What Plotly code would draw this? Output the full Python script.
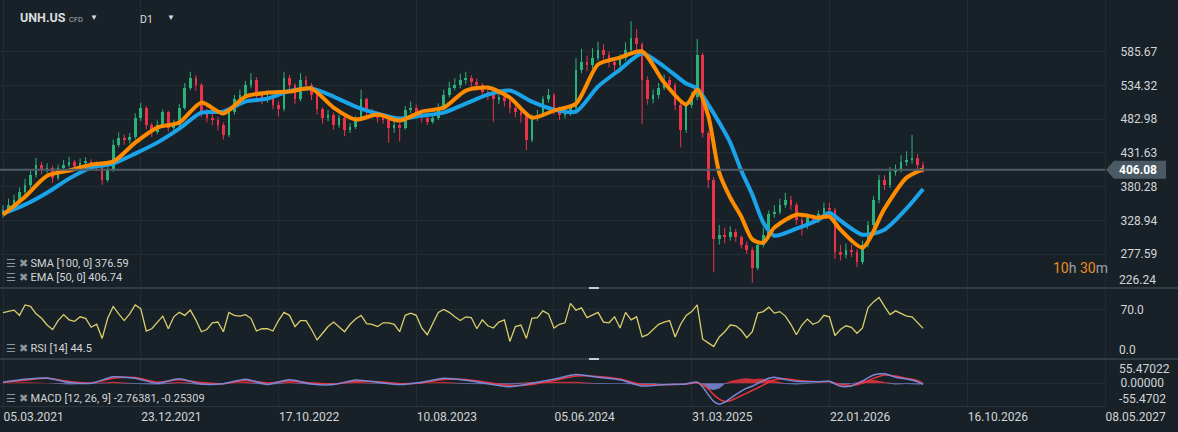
import plotly.graph_objects as go
from plotly.subplots import make_subplots

# UNH.US daily chart, squeezed into ~8-session candles
bars = list(range(168))

opens = [
    338, 345, 353, 360, 372, 383, 398, 414, 406, 409,
    394, 409, 414, 418, 412, 417, 418, 414, 412, 391,
    406, 444, 455, 452, 456, 485, 500, 474, 464, 474,
    494, 470, 474, 500, 531, 546, 535, 494, 485, 482,
    474, 459, 494, 513, 520, 535, 543, 520, 513, 516,
    505, 498, 546, 535, 513, 543, 535, 520, 498, 485,
    490, 474, 485, 467, 471, 482, 513, 494, 490, 485,
    482, 470, 474, 470, 497, 500, 490, 485, 479, 485,
    500, 520, 531, 535, 543, 546, 540, 535, 525, 520,
    513, 516, 510, 500, 494, 490, 452, 485, 490, 513,
    520, 497, 490, 494, 500, 558, 570, 566, 576, 589,
    581, 570, 566, 576, 589, 607, 597, 543, 513, 520,
    531, 543, 535, 505, 467, 505, 516, 581, 462, 391,
    300, 307, 303, 312, 303, 292, 284, 257, 292, 307,
    338, 342, 353, 360, 353, 330, 322, 333, 330, 338,
    348, 345, 281, 276, 284, 281, 266, 292, 322, 360,
    391, 383, 403, 406, 418, 421, 424, 414,
]
highs = [
    352, 362, 368, 379, 392, 405, 424, 418, 416, 412,
    414, 421, 426, 421, 423, 425, 422, 419, 414, 410,
    452, 463, 460, 462, 492, 508, 503, 478, 481, 498,
    496, 482, 506, 538, 555, 550, 538, 499, 492, 486,
    478, 498, 520, 528, 541, 553, 547, 524, 523, 519,
    510, 555, 550, 538, 553, 549, 538, 522, 501, 497,
    493, 490, 488, 477, 488, 528, 516, 499, 494, 489,
    485, 480, 478, 503, 510, 505, 494, 489, 491, 507,
    528, 540, 545, 552, 555, 550, 545, 538, 530, 524,
    522, 520, 513, 504, 498, 492, 490, 497, 518, 529,
    523, 502, 500, 506, 576, 590, 580, 591, 601, 597,
    586, 574, 582, 600, 632, 620, 600, 548, 528, 538,
    551, 548, 538, 508, 510, 524, 605, 584, 465, 395,
    322, 318, 320, 316, 306, 297, 288, 296, 318, 344,
    352, 362, 371, 366, 356, 334, 339, 338, 344, 356,
    356, 348, 292, 294, 292, 285, 298, 328, 366, 398,
    398, 410, 414, 428, 434, 459, 430, 418,
]
lows = [
    333, 340, 348, 355, 366, 378, 394, 399, 401, 386,
    390, 404, 410, 406, 408, 410, 408, 404, 383, 387,
    403, 440, 444, 446, 452, 480, 468, 456, 460, 470,
    464, 466, 471, 497, 527, 526, 486, 478, 474, 466,
    452, 456, 490, 508, 515, 530, 514, 506, 508, 498,
    487, 495, 528, 506, 510, 528, 512, 490, 476, 480,
    467, 470, 457, 462, 468, 480, 488, 484, 478, 476,
    447, 462, 449, 467, 492, 484, 478, 474, 476, 482,
    497, 516, 527, 530, 536, 532, 526, 518, 512, 479,
    506, 502, 492, 486, 478, 436, 448, 480, 486, 508,
    490, 482, 484, 488, 497, 553, 556, 560, 572, 574,
    562, 556, 560, 572, 584, 585, 475, 505, 507, 514,
    527, 525, 497, 440, 462, 500, 512, 455, 378, 250,
    292, 294, 298, 296, 286, 278, 234, 253, 288, 303,
    333, 338, 348, 345, 322, 306, 316, 323, 325, 333,
    338, 270, 268, 271, 273, 258, 262, 288, 318, 355,
    375, 378, 397, 402, 412, 415, 406, 401,
]
closes = [
    345, 353, 360, 372, 383, 398, 414, 406, 409, 394,
    409, 414, 418, 412, 417, 418, 414, 412, 391, 406,
    444, 455, 452, 456, 485, 500, 474, 464, 474, 494,
    470, 474, 500, 531, 546, 535, 494, 485, 482, 474,
    459, 494, 513, 520, 535, 543, 520, 513, 516, 505,
    498, 546, 535, 513, 543, 535, 520, 498, 485, 490,
    474, 485, 467, 471, 482, 513, 494, 490, 485, 482,
    470, 474, 470, 497, 500, 490, 485, 479, 485, 500,
    520, 531, 535, 543, 546, 540, 535, 525, 520, 513,
    516, 510, 500, 494, 490, 452, 485, 490, 513, 520,
    497, 490, 494, 500, 558, 570, 566, 576, 589, 581,
    570, 566, 576, 589, 607, 597, 543, 513, 520, 531,
    543, 535, 505, 467, 505, 516, 581, 462, 391, 300,
    307, 303, 312, 303, 292, 284, 257, 292, 307, 338,
    342, 353, 360, 353, 330, 322, 333, 330, 338, 348,
    345, 281, 276, 284, 281, 266, 292, 322, 360, 391,
    383, 403, 406, 418, 421, 424, 414, 406.08,
]

# moving averages, read at every ~4th candle
ma_bars = [0, 4, 8, 12, 16, 20, 24, 28, 32, 36, 40, 44, 48, 52, 56, 60,
           64, 68, 72, 76, 80, 84, 88, 92, 96, 100, 104, 108, 112, 116, 120, 124,
           126, 128, 130, 132, 134, 136, 138, 140,
           144, 148, 150, 152, 156, 160, 164, 167]
sma_100 = [339.2, 352.9, 371.1, 392.5, 409.2, 415.3, 430.6, 447.3, 468.6, 493.0,
           494.5, 509.8, 514.3, 525.8, 529.6, 517.4, 502.1, 491.5, 483.9, 488.4,
           493.0, 506.7, 520.4, 526.5, 509.8, 497.6, 494.5, 532.6, 558.5, 582.9,
           563.1, 537.2,
           529.6, 505.2, 477.8, 447.3, 404.7, 368.1, 325.5, 305.6,
           316.3, 330.0, 340.7, 328.5, 307.2, 314.8, 346.8, 376.59]
ema_50 = [337.6, 365.0, 397.0, 404.7, 413.8, 418.4, 447.3, 470.2, 477.8, 508.2,
          491.5, 517.4, 523.5, 525.0, 529.6, 500.6, 482.4, 490.0, 480.8, 494.5,
          500.6, 526.5, 531.1, 515.9, 485.4, 496.1, 506.7, 566.2, 576.8, 586.0,
          538.7, 505.2,
          528.0, 488.4, 401.6, 363.6, 334.6, 300.0, 295.0, 317.9,
          337.6, 333.1, 334.6, 314.8, 287.4, 346.8, 394.0, 406.74]

rsi_14 = [
    65.5, 67, 69, 62, 76, 74, 64, 58, 49, 43,
    55, 63, 56, 54, 60, 58, 46, 50, 31, 58,
    74, 64, 55, 64, 76, 71, 41, 44, 53, 61,
    44, 60, 66, 62, 69, 56, 40, 43, 52, 53,
    40, 66, 62, 61, 63, 58, 41, 44, 44, 41,
    55, 66, 62, 47, 55, 55, 43, 29, 38, 47,
    53, 47, 40, 50, 57, 62, 51, 50, 47, 52,
    52, 50, 40, 62, 65, 62, 45, 36, 52, 66,
    70, 66, 60, 55, 60, 59, 44, 56, 48, 45,
    53, 56, 27, 47, 49, 31, 58, 59, 68, 64,
    45, 50, 52, 78, 69, 72, 59, 63, 66, 53,
    52, 60, 45, 66, 56, 60, 33, 36, 43, 50,
    53, 55, 33, 50, 62, 67, 76, 30, 25, 20,
    33, 40, 49, 48, 42, 32, 40, 65, 67, 73,
    65, 67, 61, 50, 36, 49, 57, 50, 53, 62,
    60, 35, 43, 48, 46, 38, 45, 72, 80, 86,
    74, 63, 68, 65, 61, 60, 52, 44.5,
]

macd_bars = [0, 4, 8, 12, 16, 20, 24, 28, 32, 36, 40, 44, 48, 52, 56, 60,
             64, 68, 72, 76, 80, 84, 88, 92, 96, 100, 104, 108, 112, 116, 120, 124,
             126, 127, 128, 129, 130, 131, 132, 133, 134, 135, 136, 137, 138, 139, 140,
             142, 144, 148, 150, 152, 154, 156, 158, 160, 162, 164, 166, 167]
macd_line = [3, 10.6, 14, 2, 0, 17, 13, 0, 12, -2, -1, 10.6, -3, 9, -2, -3.5,
             8.7, 2.6, -3.5, 2.6, 13.2, 7.8, -1, -9, 0, 10.6, 23, 15.8, 9.5, -7.2, -3.5, -1.8,
             3, -10, -30, -48, -55.47, -50, -40, -30, -21, -13, -8, 0, 7, 13, 16,
             10, 5, 4, 5, -8, -7, 6, 22, 25, 16, 11, 4, -2.76]
macd_signal = [2, 8, 13, 5, 1, 13, 15, 3, 9, 2, -1, 7, 1, 6, 1, -2,
               5, 4, -1, 1, 10, 10, 2, -6, -3, 7, 19, 18, 11, -3, -4, -2,
               1, -4, -15, -30, -42, -48, -46, -40, -33, -26, -19, -12, -5, 3, 9,
               12, 8, 4, 4, -3, -6, 0, 13, 22, 19, 13, 7, -0.25]
macd_hist = [1, 2.6, 1, -3, -1, 4, -2, -3, 3, -4, 0, 3.6, -4, 3, -3, -1.5,
             3.7, -1.4, -2.5, 1.6, 3.2, -2.2, -3, -3, 3, 3.6, 4, -2.2, -1.5, -4.2, 0.5, 0.2,
             2, -6, -15, -18, -13.5, -2, 6, 10, 12, 13, 11, 12, 12, 10, 7,
             -2, -3, 0, 1, -5, -1, 6, 9, 3, -3, -2, -3, -2.51]

tick_bars = [0, 25, 50, 75, 100, 125, 150, 175, 200]
tick_dates = ['05.03.2021', '23.12.2021', '17.10.2022', '10.08.2023', '05.06.2024',
              '31.03.2025', '22.01.2026', '16.10.2026', '08.05.2027']
price_ticks = [585.67, 534.32, 482.98, 431.63, 380.28, 328.94, 277.59]
last_price = 406.08

BG = '#182127'
GRID = '#222c33'
SEP = '#3a454e'
TEXT = '#d2d5d8'
ICON = '#8e979e'
GREEN = '#2bb27a'
RED = '#ea3349'
BLUE = '#1ba3ea'
ORANGE = '#ff8c00'
FONT = 'Roboto'

W, H = 1178, 432
PLOT_W = 1105          # plot area width in px (right margin holds the price scale)
PLOT_H = 406


def px_x(x):
    return x / PLOT_W


def px_y(y):
    return (PLOT_H - y) / PLOT_H


fig = make_subplots(rows=3, cols=1, shared_xaxes=True, vertical_spacing=0)

# candles drawn as thin bodies + wicks so they read like the dense daily bars
up = [c >= o for o, c in zip(opens, closes)]
body_base = [min(o, c) for o, c in zip(opens, closes)]
body_size = [max(abs(c - o), 1.2) for o, c in zip(opens, closes)]
for rising, color in ((True, GREEN), (False, RED)):
    wx, wy = [], []
    for b, h, l, u in zip(bars, highs, lows, up):
        if u == rising:
            wx += [b, b, None]
            wy += [l, h, None]
    fig.add_trace(go.Scatter(x=wx, y=wy, mode='lines', line=dict(color=color, width=1),
                             hoverinfo='skip'), row=1, col=1)
fig.add_trace(go.Bar(x=bars, y=body_size, base=body_base, width=0.48,
                     marker=dict(color=[GREEN if u else RED for u in up], line=dict(width=0)),
                     hoverinfo='skip'), row=1, col=1)

fig.add_trace(go.Scatter(x=ma_bars, y=sma_100, mode='lines',
                         line=dict(color=BLUE, width=4, shape='spline', smoothing=0.7),
                         hoverinfo='skip'), row=1, col=1)
fig.add_trace(go.Scatter(x=ma_bars, y=ema_50, mode='lines',
                         line=dict(color=ORANGE, width=4, shape='spline', smoothing=0.7),
                         hoverinfo='skip'), row=1, col=1)

fig.add_trace(go.Scatter(x=bars, y=rsi_14, mode='lines',
                         line=dict(color='#d9cf6c', width=1.3), hoverinfo='skip'),
              row=2, col=1)

hist_pos = [h if h > 0 else 0 for h in macd_hist]
hist_neg = [h if h < 0 else 0 for h in macd_hist]
fig.add_trace(go.Scatter(x=macd_bars, y=hist_pos, mode='lines', fill='tozeroy',
                         line=dict(width=0, color=RED), fillcolor='rgba(234,51,59,0.85)',
                         hoverinfo='skip'), row=3, col=1)
fig.add_trace(go.Scatter(x=macd_bars, y=hist_neg, mode='lines', fill='tozeroy',
                         line=dict(width=0, color='#7c89d8'), fillcolor='rgba(124,137,216,0.85)',
                         hoverinfo='skip'), row=3, col=1)
fig.add_trace(go.Scatter(x=macd_bars, y=macd_signal, mode='lines',
                         line=dict(color='#e8333c', width=1.5, shape='spline', smoothing=0.6),
                         hoverinfo='skip'), row=3, col=1)
fig.add_trace(go.Scatter(x=macd_bars, y=macd_line, mode='lines',
                         line=dict(color='#7c89d8', width=1.5, shape='spline', smoothing=0.6),
                         hoverinfo='skip'), row=3, col=1)

# x axes: shared bar index, date labels left-aligned at each gridline
x_range = [-0.545, 200.02]
for r in (1, 2, 3):
    fig.update_xaxes(range=x_range, tickvals=tick_bars, ticktext=tick_dates,
                     showgrid=True, gridcolor=GRID, gridwidth=1, zeroline=False,
                     showticklabels=(r == 3), ticks='', rangeslider_visible=False,
                     row=r, col=1)
fig.update_xaxes(ticklabelposition='outside right', tickfont=dict(size=12, color=TEXT),
                 showline=True, linecolor='#2a353d', row=3, col=1)

axis_common = dict(side='right', showgrid=True, gridcolor=GRID, zeroline=False, ticks='',
                   showline=True, linecolor=GRID, ticklabelstandoff=12,
                   tickfont=dict(size=12, color=TEXT))
fig.update_yaxes(range=[226.0, 664.4], tickvals=price_ticks,
                 ticktext=[f'{v:.2f}' for v in price_ticks],
                 domain=[px_y(288), 1.0], **axis_common, row=1, col=1)
fig.update_yaxes(range=[3.4, 98.7], tickvals=[70], ticktext=['70.0'],
                 domain=[px_y(359), px_y(288)], **axis_common, row=2, col=1)
fig.update_yaxes(range=[-60, 64], tickvals=[0], ticktext=['0.00000'],
                 domain=[0, px_y(359)], **axis_common, row=3, col=1)

shapes = [
    # last price line
    dict(type='line', xref='x domain', yref='y', x0=0, x1=1, y0=last_price, y1=last_price,
         line=dict(color='#4f5d67', width=2)),
    # price tag behind the last price label
    dict(type='path', xref='paper', yref='y', fillcolor='#4a5963', line=dict(width=0),
         path=(f'M {px_x(1106)},{last_price} L {px_x(1114)},{last_price + 13.7} '
               f'L {px_x(1166)},{last_price + 13.7} L {px_x(1166)},{last_price - 13.7} '
               f'L {px_x(1114)},{last_price - 13.7} Z')),
]
for sep_y in (288, 359):
    shapes.append(dict(type='line', xref='paper', yref='paper', x0=0, x1=px_x(W),
                       y0=px_y(sep_y), y1=px_y(sep_y), line=dict(color=SEP, width=1.5)))
    shapes.append(dict(type='rect', xref='paper', yref='paper', x0=px_x(589), x1=px_x(599),
                       y0=px_y(sep_y + 1), y1=px_y(sep_y - 1),
                       fillcolor='#c9cdd0', line=dict(width=0)))


def note(text, x, y, size=11, color=TEXT, xanchor='left', yanchor='middle'):
    return dict(text=text, xref='paper', yref='paper', x=px_x(x), y=px_y(y),
                xanchor=xanchor, yanchor=yanchor, showarrow=False,
                font=dict(family=FONT, size=size, color=color))


icons = f'<span style="color:{ICON}">☰ ✖</span> '
annotations = [
    note('<b>UNH.US</b>', 18, 18, size=12.5, color='#d9dcdf'),
    note('CFD', 67, 19, size=7.5, color='#a9b0b5'),
    note('▼', 88, 17, size=8, color='#d9dcdf'),
    note('D1', 138, 19, size=10.5, color='#d9dcdf'),
    note('▼', 165, 17, size=8, color='#d9dcdf'),
    note(icons + 'SMA [100, 0] 376.59', 4, 263, size=11),
    note(icons + 'EMA [50, 0] 406.74', 4, 277, size=11),
    note(icons + 'RSI [14] 44.5', 4, 348, size=11),
    note(icons + 'MACD [12, 26, 9] -2.76381, -0.25309', 4, 398, size=11),
    note('<span style="color:#f28a1a">10</span>h <span style="color:#f28a1a">30</span>m',
         1110, 268, size=14, color='#9aa1a7', xanchor='right'),
    note('<b>406.08</b>', 1117, 170, size=12, color='#ffffff'),
    note('226.24', 1117, 289, size=12, yanchor='bottom'),
    note('0.0', 1117, 359, size=12, yanchor='bottom'),
    note('55.47022', 1117, 360, size=12, yanchor='top'),
    note('-55.4702', 1117, 408, size=12, yanchor='bottom'),
]

fig.update_layout(
    width=W, height=H,
    margin=dict(l=0, r=W - PLOT_W, t=0, b=H - PLOT_H),
    paper_bgcolor=BG, plot_bgcolor=BG,
    font=dict(family=FONT, size=12, color=TEXT),
    showlegend=False, hovermode=False, bargap=0,
    shapes=shapes, annotations=annotations,
)

# page body gets the default 8px margin otherwise; the chart fills the window
fig.write_html('out.html', config={'displayModeBar': False},
               post_script="document.body.style.margin='0';"
                           "document.body.style.background='#182127';")
